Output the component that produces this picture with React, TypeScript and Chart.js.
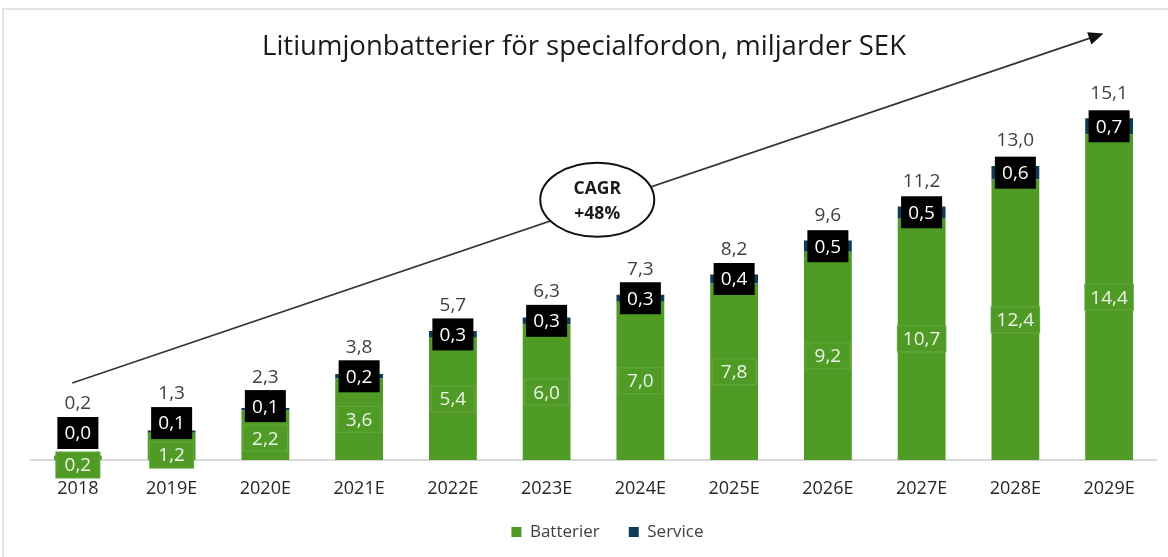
import React, { useEffect, useRef } from "react";
import { Chart, registerables } from "chart.js";

Chart.register(...registerables);

const categories = ["2018", "2019E", "2020E", "2021E", "2022E", "2023E", "2024E", "2025E", "2026E", "2027E", "2028E", "2029E"];
const batterier = [0.2, 1.2, 2.2, 3.6, 5.4, 6.0, 7.0, 7.8, 9.2, 10.7, 12.4, 14.4];
const service = [0.0, 0.1, 0.1, 0.2, 0.3, 0.3, 0.3, 0.4, 0.5, 0.5, 0.6, 0.7];
const totals = [0.2, 1.3, 2.3, 3.8, 5.7, 6.3, 7.3, 8.2, 9.6, 11.2, 13.0, 15.1];

const titleText = "Litiumjonbatterier för specialfordon, miljarder SEK";
const cagrLines = ["CAGR", "+48%"];
// arrow / ellipse anchors in data space (category index, value)
const arrowStart = [-0.06, 3.4];
const arrowEnd = [10.94, 18.85];
const ellipseAt = [5.54, 11.5];

const GREEN = "#4f9b26";
const NAVY = "#0e3d56";
const FONT = "'Open Sans', sans-serif";

const fmt = (v: number) => v.toFixed(1).replace(".", ",");

function xPix(chart: any, idx: number) {
  const x = chart.scales.x;
  const p0 = x.getPixelForTick(0);
  const p1 = x.getPixelForTick(1);
  return p0 + idx * (p1 - p0);
}

const decorPlugin = {
  id: "decor",
  beforeDraw(chart: any) {
    const ctx = chart.ctx;
    ctx.save();
    ctx.fillStyle = "#ffffff";
    ctx.fillRect(0, 0, chart.width, chart.height);
    ctx.strokeStyle = "#e4e4e4";
    ctx.lineWidth = 2;
    ctx.beginPath();
    ctx.moveTo(3, chart.height);
    ctx.lineTo(3, 9);
    ctx.lineTo(chart.width, 9);
    ctx.stroke();
    ctx.restore();
  },
  afterLayout(chart: any) {
    if (chart.legend) {
      chart.legend.left += 14;
      chart.legend.right += 14;
      chart.legend.top -= 6.5;
      chart.legend.bottom -= 6.5;
    }
  },
  afterDraw(chart: any) {
    const ctx = chart.ctx;
    const y = chart.scales.y;
    ctx.save();
    // title
    ctx.fillStyle = "#1a1a1a";
    ctx.font = `27.5px ${FONT}`;
    ctx.textAlign = "center";
    ctx.textBaseline = "middle";
    ctx.fillText(titleText, 584, 47);

    // arrow
    const sx = xPix(chart, arrowStart[0]);
    const sy = y.getPixelForValue(arrowStart[1]);
    const ex = xPix(chart, arrowEnd[0]);
    const ey = y.getPixelForValue(arrowEnd[1]);
    const ang = Math.atan2(ey - sy, ex - sx);
    const L = 15, W = 6.5;
    ctx.strokeStyle = "#333333";
    ctx.lineWidth = 1.6;
    ctx.beginPath();
    ctx.moveTo(sx, sy);
    ctx.lineTo(ex - Math.cos(ang) * L * 0.8, ey - Math.sin(ang) * L * 0.8);
    ctx.stroke();
    ctx.fillStyle = "#111111";
    ctx.beginPath();
    ctx.moveTo(ex, ey);
    ctx.lineTo(ex - Math.cos(ang) * L - Math.sin(ang) * W, ey - Math.sin(ang) * L + Math.cos(ang) * W);
    ctx.lineTo(ex - Math.cos(ang) * L + Math.sin(ang) * W, ey - Math.sin(ang) * L - Math.cos(ang) * W);
    ctx.closePath();
    ctx.fill();

    // ellipse
    const cx = xPix(chart, ellipseAt[0]);
    const cy = y.getPixelForValue(ellipseAt[1]);
    ctx.beginPath();
    ctx.ellipse(cx, cy, 57, 37, 0, 0, Math.PI * 2);
    ctx.fillStyle = "#ffffff";
    ctx.fill();
    ctx.strokeStyle = "#111111";
    ctx.lineWidth = 2;
    ctx.stroke();
    ctx.fillStyle = "#1a1a1a";
    ctx.font = `bold 17.5px ${FONT}`;
    ctx.fillText(cagrLines[0], cx, cy - 11);
    ctx.fillText(cagrLines[1], cx, cy + 14);
    ctx.restore();
  },
  afterDatasetsDraw(chart: any) {
    const ctx = chart.ctx;
    const m0 = chart.getDatasetMeta(0);
    const m1 = chart.getDatasetMeta(1);
    const base = chart.scales.y.getPixelForValue(0);
    ctx.save();
    ctx.font = `19px ${FONT}`;
    ctx.textAlign = "center";
    ctx.textBaseline = "middle";
    categories.forEach((_, i) => {
      const g: any = m0.data[i];
      const s: any = m1.data[i];
      const x = g.x;
      let gc = (g.y + g.base) / 2;
      let sc = (s.y + s.base) / 2;
      const need = 32;
      if (gc - sc < need) {
        const d = need - (gc - sc);
        const gNew = Math.min(gc + d / 2, base + 5);
        const used = gNew - gc;
        sc = sc - (d - used);
        gc = gNew;
      }
      // green label
      const gt = fmt(batterier[i]);
      const gw = Math.max(ctx.measureText(gt).width + 12, 45);
      const gh = 27;
      ctx.fillStyle = GREEN;
      ctx.fillRect(x - gw / 2, gc - gh / 2, gw, gh);
      ctx.strokeStyle = "rgba(255,255,255,0.14)";
      ctx.lineWidth = 1;
      ctx.strokeRect(x - gw / 2 + 0.5, gc - gh / 2 + 0.5, gw - 1, gh - 1);
      ctx.fillStyle = "#eef6ea";
      ctx.fillText(gt, x, gc + 1);
      // service label
      const st = fmt(service[i]);
      const bw = 41, bh = 32;
      ctx.fillStyle = "#000000";
      ctx.fillRect(x - bw / 2, sc - bh / 2, bw, bh);
      ctx.fillStyle = "#ffffff";
      ctx.fillText(st, x, sc + 1);
      // total
      const ty = Math.min(s.y - 25, sc - bh / 2 - 13);
      ctx.fillStyle = "#404040";
      ctx.fillText(fmt(totals[i]), x, ty);
    });
    ctx.restore();
  },
};

export default function App() {
  const ref = useRef<HTMLCanvasElement>(null);
  useEffect(() => {
    document.body.style.margin = "0";
    const chart = new Chart(ref.current!, {
      type: "bar",
      data: {
        labels: categories,
        datasets: [
          { label: "Batterier", data: batterier, backgroundColor: GREEN, borderWidth: 0, categoryPercentage: 1, barPercentage: 0.51 },
          { label: "Service", data: service, backgroundColor: NAVY, borderWidth: 0, categoryPercentage: 1, barPercentage: 0.51 },
        ],
      },
      options: {
        animation: false,
        responsive: false,
        devicePixelRatio: 1,
        layout: { padding: { left: 31, right: 12, top: 98, bottom: 0 } },
        plugins: {
          legend: {
            position: "bottom",
            labels: {
              boxWidth: 10,
              boxHeight: 10,
              padding: 29,
              color: "#404040",
              font: { family: FONT, size: 17 },
            },
          },
          tooltip: { enabled: false },
          title: { display: false },
        },
        scales: {
          x: {
            stacked: true,
            grid: { display: false, drawTicks: false },
            border: { display: true, color: "#d9d9d9", width: 2 },
            ticks: { color: "#262626", padding: 18.5, font: { family: FONT, size: 18 } },
            afterFit: (s: any) => {
              s.height = 41;
            },
          },
          y: {
            stacked: true,
            display: false,
            min: 0,
            max: 16,
          },
        },
      },
      plugins: [decorPlugin],
    });
    return () => chart.destroy();
  }, []);
  return (
    <div style={{ width: 1168, height: 557 }}>
      <canvas ref={ref} width={1168} height={557} />
    </div>
  );
}
